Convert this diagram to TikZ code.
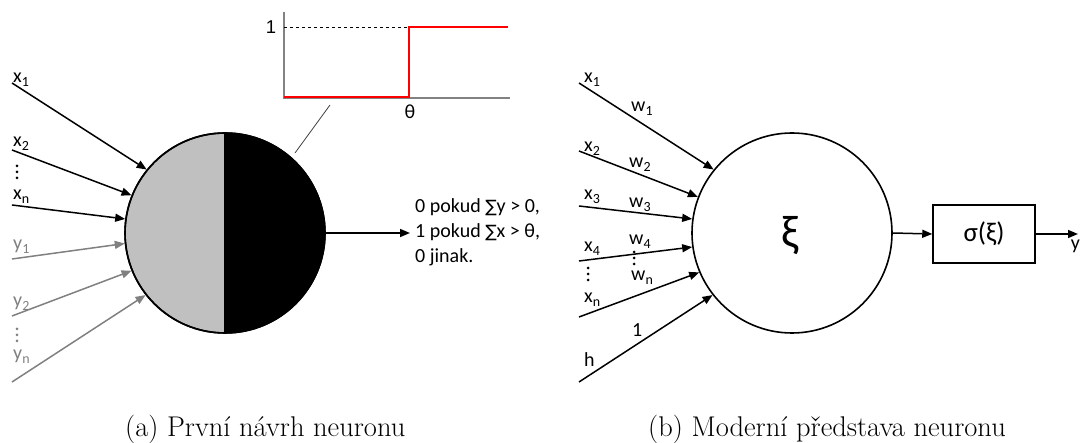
\documentclass[tikz,border=0pt]{standalone}
\usepackage{fontspec}
\newfontfamily\cf{Carlito}
\newfontfamily\df{DejaVu Sans}
\newfontfamily\af{Liberation Sans}
\usetikzlibrary{arrows.meta}
\definecolor{ingray}{RGB}{128,128,128}
\definecolor{halfgray}{RGB}{192,192,192}
\definecolor{axgray}{RGB}{130,130,130}
\begin{document}
\begin{tikzpicture}[x=1pt,y=-1pt,
  arr/.style={line width=1.5pt,-{Triangle[length=10pt,width=8pt]}},
  garr/.style={arr,draw=ingray},
  lbl/.style={font=\cf\fontsize{20}{20}\selectfont,inner sep=0pt,anchor=base west},
  glbl/.style={lbl,text=ingray},
  neuron/.style={circle,draw,line width=1.6pt,minimum size=200pt,inner sep=0pt},
  captext/.style={font=\fontsize{28.5}{32}\selectfont,inner sep=0pt,anchor=base west}]
\useasboundingbox (0,0) rectangle (1080,443);

% ---------- (a) ----------
\node[neuron,fill=halfgray,path picture={\fill[black] (path picture bounding box.north) rectangle (path picture bounding box.south east);}] (L) at (225,233) {};
\draw[line width=1.6pt] (L.north) -- (L.south);
\draw[line width=1.6pt] (L) circle[radius=100pt];

\coordinate (ax1) at (12,83);
\coordinate (ax2) at (12,150);
\coordinate (axn) at (12,205);
\coordinate (ay1) at (12,259);
\coordinate (ay2) at (12,316);
\coordinate (ayn) at (12,382);
\draw[arr] (ax1) -- (L.141.8);
\draw[arr] (ax2) -- (L.158.2);
\draw[arr] (axn) -- (L.172.7);
\draw[garr] (ay1) -- (L.186.8);
\draw[garr] (ay2) -- (L.202.3);
\draw[garr] (ayn) -- (L.218.2);

\node[lbl] (lx1) at (13,83) {x\textsubscript{1}};
\node[lbl] (lx2) at (13,147) {x\textsubscript{2}};
\node[lbl] (lxn) at (13,200) {x\textsubscript{n}};
\node[glbl] (ly1) at (13,250) {y\textsubscript{1}};
\node[glbl] (ly2) at (13,307) {y\textsubscript{2}};
\node[glbl] (lyn) at (13,360) {y\textsubscript{n}};
\foreach \yy in {166,172,178} \fill (17,\yy) circle[radius=1.5pt];
\foreach \yy in {329,335,341} \fill[ingray] (17,\yy) circle[radius=1.5pt];

% step plot
\draw[axgray,line width=1.3pt] (284,12) -- (284,98) -- (510,98);
\draw[black,dashed,line width=0.6pt] (284,27) -- (409,27);
\draw[red,line width=2pt] (284,97) -- (409,97) -- (409,27) -- (508,27);
\node[font=\af\fontsize{18.5}{18.5}\selectfont,inner sep=0pt] (one) at (271,27) {1};
\node[font=\cf\fontsize{20}{20}\selectfont,inner sep=0pt] (th) at (410,112) {θ};
\coordinate (pl) at (330,105);
\coordinate (pc) at (295,153);
\draw[line width=0.8pt,black!75] (pl) -- (pc);

% output
\coordinate (aout) at (410,233);
\draw[arr] (L.east) -- (aout);
\node[font=\cf\fontsize{20}{25}\selectfont,align=left,inner sep=0pt,anchor=base west] (rule) at (415,263)
  {0 pokud {\df\fontsize{17}{17}\selectfont ∑}y > 0,\\1 pokud {\df\fontsize{17}{17}\selectfont ∑}x > θ,\\0 jinak.};

\node[captext] (capa) at (125,437) {(a) První návrh neuronu};

% ---------- (b) ----------
\node[neuron] (R) at (792,233) {};
\node[font=\cf\fontsize{46}{46}\selectfont,inner sep=0pt] (xi) at (790,236) {ξ};

\coordinate (bx1) at (579,83);
\coordinate (bx2) at (579,151);
\coordinate (bx3) at (579,206);
\coordinate (bx4) at (579,261);
\coordinate (bxn) at (579,317);
\coordinate (bh) at (579,382);
\draw[arr] (bx1) -- (R.141.8);
\draw[arr] (bx2) -- (R.159);
\draw[arr] (bx3) -- (R.172);
\draw[arr] (bx4) -- (R.188.4);
\draw[arr] (bxn) -- (R.203.6);
\draw[arr] (bh) -- (R.218.7);

\node[lbl] (rx1) at (584,83) {x\textsubscript{1}};
\node[lbl] (rx2) at (584,152) {x\textsubscript{2}};
\node[lbl] (rx3) at (584,200) {x\textsubscript{3}};
\node[lbl] (rx4) at (584,252) {x\textsubscript{4}};
\node[lbl] (rxn) at (584,303) {x\textsubscript{n}};
\node[lbl] (rh) at (584,367) {h};
\node[lbl] (rw1) at (631,112) {w\textsubscript{1}};
\node[lbl] (rw2) at (629,168) {w\textsubscript{2}};
\node[lbl] (rw3) at (629,208) {w\textsubscript{3}};
\node[lbl] (rw4) at (629,245) {w\textsubscript{4}};
\node[lbl] (rwn) at (631,281) {w\textsubscript{n}};
\node[lbl] (r1) at (632,337) {1};
\foreach \yy in {252,258,264} \fill (634,\yy) circle[radius=1.5pt];
\foreach \yy in {268,274,280} \fill (588,\yy) circle[radius=1.5pt];

\node[draw,line width=1.5pt,minimum width=102pt,minimum height=58pt,inner sep=0pt,font=\cf\fontsize{27}{27}\selectfont] (sig) at (984,234) {σ(ξ)};
\draw[arr] (R.east) -- (sig.west);
\coordinate (yend) at (1078,234);
\draw[arr] (sig.east) -- (yend);
\node[lbl,anchor=base east] (ylab) at (1080,250) {y};

\node[captext] (capb) at (648,437) {(b) Moderní představa neuronu};
\end{tikzpicture}
\end{document}
